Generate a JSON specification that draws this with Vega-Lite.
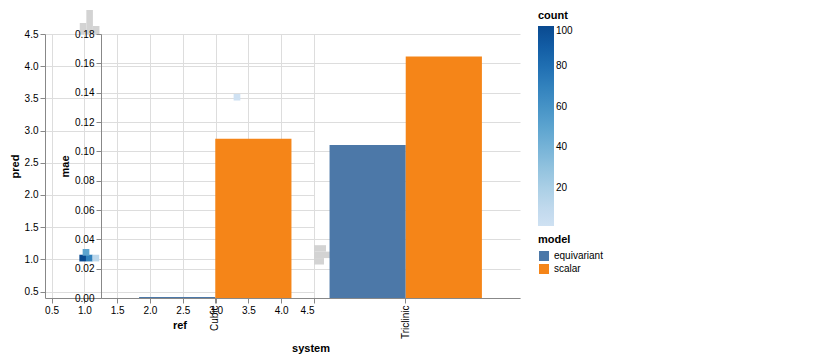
{
  "padding": {"left": 9, "top": 10, "right": 8, "bottom": 5},
  "config": {
    "font": "Liberation Sans",
    "view": {"stroke": null}
  },
  "datasets": {
    "hex": [
      {"ref": 0.975, "pred": 1.02, "count": 100}, {"ref": 1.075, "pred": 1.02, "count": 70}, {"ref": 1.175, "pred": 1.02, "count": 12},
      {"ref": 1.025, "pred": 1.109, "count": 50}, {"ref": 3.326, "pred": 3.519, "count": 1}
    ],
    "tophist": [
      {"lo": 0.93, "hi": 1.03, "n": 55}, {"lo": 1.03, "hi": 1.13, "n": 120}, {"lo": 1.13, "hi": 1.23, "n": 40}
    ],
    "righthist": [
      {"lo": 0.92, "hi": 1.02, "n": 50}, {"lo": 1.02, "hi": 1.12, "n": 128}, {"lo": 1.12, "hi": 1.22, "n": 60}
    ],
    "bars": [
      {"system": "Triclinic", "model": "equivariant", "mae": 0.1043}, {"system": "Triclinic", "model": "scalar", "mae": 0.1646},
      {"system": "Cubic", "model": "equivariant", "mae": 0.0006}, {"system": "Cubic", "model": "scalar", "mae": 0.1086}
    ]
  },
  "bounds": "flush",
  "spacing": 0,
  "vconcat": [
    {
      "width": 269,
      "height": 24,
      "data": {"name": "tophist"},
      "mark": {"type": "rect", "color": "#d3d3d3"},
      "encoding": {
        "x": {"field": "lo", "type": "quantitative", "scale": {"domain": [0.4, 4.5], "nice": false, "zero": false}, "axis": null},
        "x2": {"field": "hi"},
        "y": {"field": "n", "type": "quantitative", "scale": {"domain": [0, 120], "nice": false}, "axis": null},
        "y2": {"datum": 0}
      }
    },
    {
      "bounds": "flush",
      "spacing": 56,
      "hconcat": [
        {
          "bounds": "flush",
          "spacing": 0,
          "hconcat": [
            {
              "width": 269,
              "height": 264,
              "data": {"name": "hex"},
              "mark": {"type": "point", "filled": true, "opacity": 1, "size": 45, "shape": "square"},
              "encoding": {
                "x": {"field": "ref", "type": "quantitative", "scale": {"domain": [0.4, 4.5], "nice": false, "zero": false}},
                "y": {"field": "pred", "type": "quantitative", "scale": {"domain": [0.4, 4.5], "nice": false, "zero": false}},
                "color": {"field": "count", "type": "quantitative"}
              }
            },
            {
              "width": 26,
              "height": 264,
              "data": {"name": "righthist"},
              "mark": {"type": "rect", "color": "#d3d3d3"},
              "encoding": {
                "y": {"field": "lo", "type": "quantitative", "scale": {"domain": [0.4, 4.5], "nice": false, "zero": false}, "axis": null},
                "y2": {"field": "hi"},
                "x": {"field": "n", "type": "quantitative", "scale": {"domain": [0, 130], "nice": false}, "axis": null},
                "x2": {"datum": 0}
              }
            }
          ]
        },
        {
          "width": 419,
          "height": 264,
          "data": {"name": "bars"},
          "mark": {"type": "bar"},
          "encoding": {
            "x": {"field": "system", "type": "nominal"},
            "xOffset": {"field": "model", "type": "nominal"},
            "y": {"field": "mae", "type": "quantitative"},
            "fill": {"field": "model", "type": "nominal"}
          }
        }
      ]
    }
  ]
}
